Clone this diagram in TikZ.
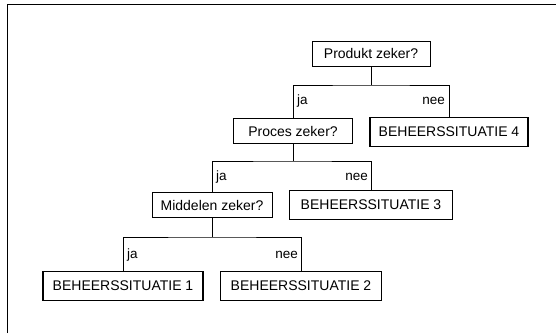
\documentclass[tikz,border=0pt]{standalone}
\usepackage{fontspec}
\setmainfont{Liberation Sans}
\begin{document}
\begin{tikzpicture}[x=1pt,y=-1pt,
  qbox/.style={draw=black, line width=0.7pt, inner sep=0pt, minimum height=25pt, font=\fontsize{14}{16}\selectfont},
  sbox/.style={draw=black, line width=1.3pt, inner sep=0pt, minimum height=29pt, font=\fontsize{14}{16}\selectfont},
  conn/.style={draw=black, line width=0.7pt},
  lblR/.style={anchor=west, inner sep=0pt, font=\fontsize{13.5}{15}\selectfont},
  lblL/.style={anchor=east, inner sep=0pt, font=\fontsize{13.5}{15}\selectfont},
  frame/.style={draw=black, line width=1pt}]
\useasboundingbox (0,0) rectangle (558,333);
\draw[frame] (7,333) -- (7,4) -- (556,4);
% nodes
\node[qbox, minimum width=118pt] (prod) at (371,53.5) {Produkt zeker?};
\node[qbox, minimum width=119pt] (proc) at (293,131) {Proces zeker?};
\node[sbox, minimum width=158pt] (s4) at (449,132) {BEHEERSSITUATIE 4};
\node[qbox, minimum width=120pt] (midd) at (212,205) {Middelen zeker?};
\node[sbox, minimum width=163pt] (s3) at (371,205) {BEHEERSSITUATIE 3};
\node[sbox, minimum width=160pt] (s1) at (123,286) {BEHEERSSITUATIE 1};
\node[sbox, minimum width=161pt] (s2) at (301,286) {BEHEERSSITUATIE 2};
% junctions
\coordinate (j1) at (371,85);
\coordinate (j2) at (293,161);
\coordinate (j3) at (212,237);
% connectors
\draw[conn] (prod.south) -- (j1);
\draw[conn] (proc.north) |- (j1) -| (s4.north);
\draw[conn] (proc.south) -- (j2);
\draw[conn] (midd.north) |- (j2) -| (s3.north);
\draw[conn] (midd.south) -- (j3);
\draw[conn] (s1.north) |- (j3) -| (s2.north);
% labels
\node[lblR] (ja1) at (297,101) {ja};
\node[lblL] (nee1) at (445,101) {nee};
\node[lblR] (ja2) at (216,177) {ja};
\node[lblL] (nee2) at (368,177) {nee};
\node[lblR] (ja3) at (127,255) {ja};
\node[lblL] (nee3) at (298,255) {nee};
\end{tikzpicture}
\end{document}
